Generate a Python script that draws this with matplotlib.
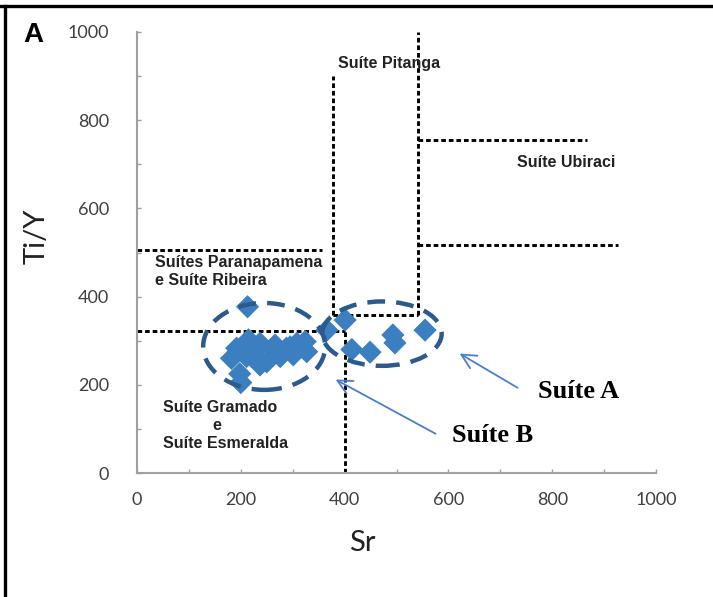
import matplotlib
matplotlib.use('Agg')
import matplotlib.pyplot as plt
from matplotlib.patches import Ellipse
from matplotlib.lines import Line2D

# ---- data -------------------------------------------------------------
# Suíte B cluster (Sr, Ti/Y)
sr_b = [182, 192, 215, 237, 266, 295, 324, 327, 301, 276, 250, 231, 211,
        263, 288, 237, 198, 200, 213, 308, 224, 366]
tiy_b = [260, 283, 302, 294, 290, 286, 298, 275, 268, 264, 252, 264, 264,
         279, 283, 245, 225, 205, 377, 294, 279, 324]
# Suíte A cluster
sr_a = [401, 414, 449, 493, 497, 555]
tiy_a = [347, 280, 274, 313, 295, 324]

# field boundaries (x-list, y-list)
boundaries = [
    ([378, 378], [358, 900]),
    ([378, 541], [358, 358]),
    ([541, 541], [358, 1000]),
    ([541, 867], [755, 755]),
    ([541, 927], [517, 517]),
    ([0, 356], [506, 506]),
    ([0, 400], [322, 322]),
    ([400, 400], [0, 352]),
]

x_ticks = [0, 200, 400, 600, 800, 1000]
y_ticks = [0, 200, 400, 600, 800, 1000]

# ---- figure -----------------------------------------------------------
fig = plt.figure(figsize=(7.13, 5.97), dpi=100)
ax = fig.add_axes([137 / 713, 1 - 473 / 597, (656 - 137) / 713, (473 - 32) / 597])
ax.set_xlim(0, 1000)
ax.set_ylim(0, 1000)

for s in ['top', 'right']:
    ax.spines[s].set_visible(False)
for s in ['left', 'bottom']:
    ax.spines[s].set_color('#a0a0a0')
    ax.spines[s].set_linewidth(1.5)

ax.set_xticks(x_ticks)
ax.set_yticks(y_ticks)
ax.set_xticks(range(0, 1001, 100), minor=True)
ax.set_yticks(range(0, 1001, 100), minor=True)
ax.tick_params(which='both', direction='in', length=3, width=1, color='#a0a0a0')
ax.tick_params(axis='y', which='major', pad=20, labelsize=13, labelcolor='#404040')
ax.tick_params(axis='x', which='major', pad=14, labelsize=13, labelcolor='#404040')
for lab in ax.get_xticklabels() + ax.get_yticklabels():
    lab.set_family('Lato')

# boundaries
for xs, ys in boundaries:
    ax.plot(xs, ys, color='black', lw=2.1, linestyle=(0, (1.6, 1.0)), zorder=2)

# points
ax.scatter(sr_b, tiy_b, marker='D', s=140, color='#3b7fc0', edgecolors='none', zorder=3)
ax.scatter(sr_a, tiy_a, marker='D', s=140, color='#3b7fc0', edgecolors='none', zorder=3)

# ellipses
ell_color = '#2c5a8c'
ax.add_patch(Ellipse((245, 287), 235, 197, fill=False, edgecolor=ell_color,
                     lw=3.2, linestyle=(0, (4, 2.5)), zorder=4))
ax.add_patch(Ellipse((472, 316), 230, 146, fill=False, edgecolor=ell_color,
                     lw=3.2, linestyle=(0, (4, 2.5)), zorder=4))

# arrows
arr_color = '#4a7fcc'
ax.annotate('', xy=(617, 274), xytext=(738, 190),
            arrowprops=dict(arrowstyle='->', color=arr_color, lw=1.3,
                            mutation_scale=26), zorder=5)
ax.annotate('', xy=(378, 215), xytext=(580, 86),
            arrowprops=dict(arrowstyle='->', color=arr_color, lw=1.3,
                            mutation_scale=26), zorder=5)

# field labels
lab_kw = dict(fontsize=11.5, fontweight='bold', color='#222222', family='Liberation Sans')
ax.text(486, 918, 'Suíte Pitanga', ha='center', va='baseline', **lab_kw)
ax.text(827, 695, 'Suíte Ubiraci', ha='center', va='baseline', **lab_kw)
ax.text(35, 468, 'Suítes Paranapamena', ha='left', va='baseline', **lab_kw)
ax.text(35, 426, 'e Suíte Ribeira', ha='left', va='baseline', **lab_kw)
ax.text(50, 138, 'Suíte Gramado', ha='left', va='baseline', **lab_kw)
ax.text(153, 97, 'e', ha='center', va='baseline', **lab_kw)
ax.text(50, 57, 'Suíte Esmeralda', ha='left', va='baseline', **lab_kw)

ser_kw = dict(fontsize=19, fontweight='bold', color='black', family='Liberation Serif')
ax.text(773, 170, 'Suíte A', ha='left', va='baseline', **ser_kw)
ax.text(606, 71, 'Suíte B', ha='left', va='baseline', **ser_kw)

# axis labels
fig.text(362 / 713, 1 - 543 / 597, 'Sr', ha='center', va='center', fontsize=21,
         family='Lato', color='#222222')
fig.text(37 / 713, 1 - 236 / 597, 'Ti/Y', ha='center', va='center', fontsize=21,
         family='Lato', color='#222222', rotation=90)

# panel letter
fig.text(33 / 713, 1 - 35 / 597, 'A', ha='center', va='center', fontsize=20,
         fontweight='bold', family='Liberation Sans', color='black')

# frame lines (top and left)
fig.add_artist(Line2D([0, 1], [1 - 6 / 597, 1 - 6 / 597], transform=fig.transFigure,
                      color='black', lw=2.4))
fig.add_artist(Line2D([5 / 713, 5 / 713], [0, 1 - 6 / 597], transform=fig.transFigure,
                      color='black', lw=2.4))

fig.savefig('out.png', dpi=100)
